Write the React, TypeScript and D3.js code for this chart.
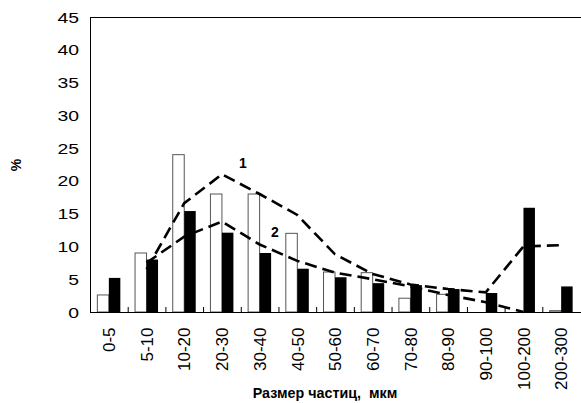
import React from "react";
import * as d3 from "d3";

// size classes, um
const categories = ["0-5", "5-10", "10-20", "20-30", "30-40", "40-50", "50-60", "60-70", "70-80", "80-90", "90-100", "100-200", "200-300"];
// open bars
const seriesOpen = [2.6, 9, 24, 18, 18, 12, 6.1, 6, 2.1, 2.7, 0, 0, 0.2];
// filled bars
const seriesFilled = [5.2, 8, 15.4, 12.1, 9, 6.6, 5.3, 4.4, 4.1, 3.5, 2.9, 15.9, 3.9];
// dashed curves (null = no point)
const curve1 = [null, 6.5, 16.6, 21, 18, 14.8, 8.8, 5.8, 4.2, 3.5, 3.0, 10, 10.2];
const curve2 = [null, 7.5, 11.5, 13.8, 10.3, 7.8, 6.0, 5.0, 3.9, 2.6, 1.5, 0, null];
const yTicks = [0, 5, 10, 15, 20, 25, 30, 35, 40, 45];

const W = 581;
const H = 403;
const margin = { top: 17, right: 1, bottom: 91, left: 90 };
const font = "'Liberation Sans', Arial, sans-serif";

const App = () => {
    const x0 = d3.scaleBand<string>()
        .domain(categories)
        .range([margin.left, W - margin.right]);
    const x1 = d3.scaleBand<string>()
        .domain(["open", "filled"])
        .range([0, x0.bandwidth()])
        .paddingOuter(0.64);
    const y = d3.scaleLinear()
        .domain([0, 45])
        .range([H - margin.bottom, margin.top]);

    const cx = (c: string) => (x0(c) as number) + x0.bandwidth() / 2;
    const line = d3.line<number | null>()
        .defined((d) => d !== null)
        .x((_, i) => cx(categories[i]))
        .y((d) => y(d as number));

    const y0 = y(0);
    const boundaries = categories.slice(1).map((c) => x0(c) as number);

    return (
        <svg width={W} height={H} style={{ position: "absolute", left: 0, top: 0 }} fontFamily={font}>
            <rect width={W} height={H} fill="#fff" />

            {/* bars */}
            {categories.map((c, i) => (
                <g key={c}>
                    {seriesOpen[i] > 0 && (
                        <rect
                            x={(x0(c) as number) + (x1("open") as number)}
                            y={y(seriesOpen[i])}
                            width={x1.bandwidth()}
                            height={y0 - y(seriesOpen[i])}
                            fill="#fff"
                            stroke="#555"
                            strokeWidth={1}
                        />
                    )}
                    <rect
                        x={(x0(c) as number) + (x1("filled") as number)}
                        y={y(seriesFilled[i])}
                        width={x1.bandwidth()}
                        height={y0 - y(seriesFilled[i])}
                        fill="#000"
                    />
                </g>
            ))}

            {/* dashed curves */}
            <path d={line(curve1) || ""} fill="none" stroke="#000" strokeWidth={2.6} strokeDasharray="12,6" />
            <path d={line(curve2) || ""} fill="none" stroke="#000" strokeWidth={2.6} strokeDasharray="12,6" />
            <text x={243} y={168} fontSize={14} fontWeight="bold" textAnchor="middle">1</text>
            <text x={275} y={237} fontSize={14} fontWeight="bold" textAnchor="middle">2</text>

            {/* axes */}
            <line x1={margin.left} x2={W} y1={margin.top + 0.5} y2={margin.top + 0.5} stroke="#000" />
            <line x1={margin.left + 0.5} x2={margin.left + 0.5} y1={margin.top} y2={y0} stroke="#000" />
            <line x1={margin.left} x2={W} y1={y0 + 0.5} y2={y0 + 0.5} stroke="#000" />
            {boundaries.map((b) => (
                <line key={b} x1={b + 0.5} x2={b + 0.5} y1={y0} y2={y0 - 5} stroke="#000" />
            ))}

            {yTicks.map((t) => (
                <text
                    key={t}
                    transform={`translate(79,${y(t)}) scale(1.25,1)`}
                    dy="0.36em"
                    fontSize={15.5}
                    textAnchor="end"
                >{t}</text>
            ))}

            {categories.map((c) => (
                <text
                    key={c}
                    transform={`translate(${cx(c) + 6.2},${y0 + 15.5}) rotate(-90)`}
                    fontSize={17}
                    textAnchor="end"
                >{c}</text>
            ))}

            <text x={325} y={398} fontSize={14.3} fontWeight="bold" textAnchor="middle" style={{ whiteSpace: "pre" }}>
                Размер частиц,  мкм
            </text>
            <text transform="translate(21,165) rotate(-90)" fontSize={14} fontWeight="bold" textAnchor="middle">%</text>
        </svg>
    );
};

export default App;
